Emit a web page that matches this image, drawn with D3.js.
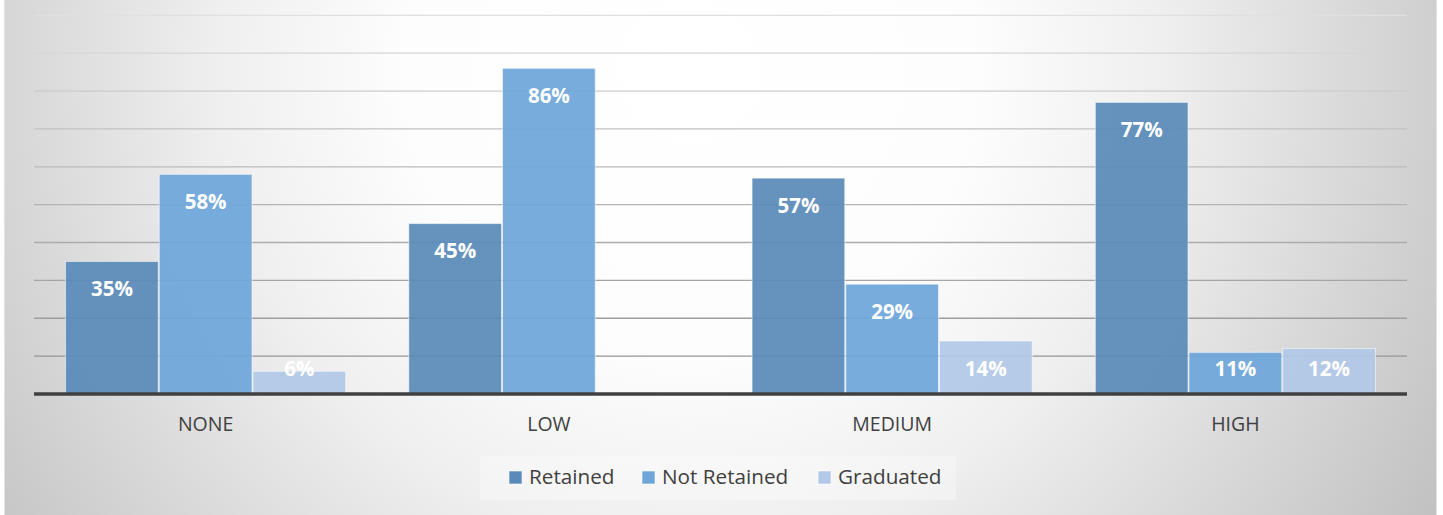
<!DOCTYPE html>
<html>
<head>
<meta charset="utf-8">
<script src="https://cdn.jsdelivr.net/npm/d3@7/dist/d3.min.js"></script>
<style>
  html, body { margin: 0; padding: 0; background: #ffffff; }
  svg { display: block; }
  text { font-family: "Open Sans", "Noto Sans", sans-serif; }
</style>
</head>
<body>
<svg id="chart" width="1443" height="515"></svg>
<script>
// ---- data ----
const categories = ["NONE", "LOW", "MEDIUM", "HIGH"];
const seriesNames = ["Retained", "Not Retained", "Graduated"];
const retained = [35, 45, 57, 77];
const notRetained = [58, 86, 29, 11];
const graduated = [6, null, 14, 12];
const yTicks = [10, 20, 30, 40, 50, 60, 70, 80, 90, 100];

const seriesValues = [retained, notRetained, graduated];
const colors = ["#5a8ab9", "#6ea6da", "#b2c8e6"];

const W = 1443, H = 515;
const svg = d3.select("#chart");

// background radial gradient
const defs = svg.append("defs");
const rg = defs.append("radialGradient")
  .attr("id", "bg")
  .attr("gradientUnits", "userSpaceOnUse")
  .attr("cx", 690).attr("cy", 70).attr("r", 860);
[[0, "#ffffff"], [0.33, "#fdfdfd"], [0.55, "#efefef"], [0.8, "#d6d6d6"], [1, "#c2c2c2"]]
  .forEach(([o, c]) => rg.append("stop").attr("offset", o).attr("stop-color", c));

svg.append("rect")
  .attr("x", 4.5).attr("y", -1).attr("width", 1432).attr("height", H + 2)
  .attr("fill", "url(#bg)")
  .attr("stroke", "#e2e2e2").attr("stroke-width", 1);

// scales
const plotLeft = 34, plotRight = 1407;
const x0 = d3.scaleBand().domain(categories).range([plotLeft, plotRight])
  .paddingInner(0.181).paddingOuter(0.0905);
const x1 = d3.scaleBand().domain(seriesNames).range([0, x0.bandwidth()]).padding(0);
const y = d3.scaleLinear().domain([0, 100]).range([394, 15.3]);

// gridlines
const gridColor = d3.scaleLinear().domain([100, 70, 10]).range(["#e0e0e0", "#c2c2c2", "#969696"]);
svg.append("g").selectAll("line").data(yTicks).join("line")
  .attr("x1", plotLeft).attr("x2", plotRight)
  .attr("y1", d => y(d)).attr("y2", d => y(d))
  .attr("stroke", d => gridColor(d))
  .attr("stroke-width", 1.3);

// bars
const rows = categories.map((c, i) => ({
  cat: c,
  vals: seriesNames.map((s, j) => ({ s, j, v: seriesValues[j][i] }))
}));

const groups = svg.append("g").selectAll("g").data(rows).join("g")
  .attr("transform", d => `translate(${x0(d.cat)},0)`);

groups.selectAll("rect").data(d => d.vals.filter(e => e.v != null)).join("rect")
  .attr("x", d => x1(d.s) + 0.5)
  .attr("y", d => y(d.v))
  .attr("width", x1.bandwidth() - 1)
  .attr("height", d => y(0) - y(d.v))
  .attr("fill", d => colors[d.j])
  .attr("fill-opacity", 0.93)
  .attr("stroke", "rgba(255,255,255,0.55)")
  .attr("stroke-width", 1);

// data labels
groups.selectAll("text").data(d => d.vals.filter(e => e.v != null)).join("text")
  .attr("x", d => x1(d.s) + x1.bandwidth() / 2)
  .attr("y", d => Math.min(y(d.v) + 27.5, y(0) - 25))
  .attr("dy", "0.36em")
  .attr("text-anchor", "middle")
  .attr("fill", "#ffffff")
  .attr("font-weight", "bold")
  .attr("font-size", 20.5)
  .text(d => d.v + "%");

// baseline axis
svg.append("line")
  .attr("x1", plotLeft).attr("x2", plotRight)
  .attr("y1", y(0)).attr("y2", y(0))
  .attr("stroke", "#404040").attr("stroke-width", 3.5);

// category axis
const xAxis = d3.axisBottom(x0).tickSize(0).tickPadding(0);
const axG = svg.append("g").attr("transform", `translate(0,${y(0)})`).call(xAxis);
axG.select(".domain").remove();
axG.selectAll("text")
  .attr("y", 30)
  .attr("dy", "0.36em")
  .attr("fill", "#404040")
  .attr("font-size", 19.5)
  .attr("font-family", "'Open Sans', 'Noto Sans', sans-serif");

// legend
svg.append("rect")
  .attr("x", 480).attr("y", 456).attr("width", 476).attr("height", 44)
  .attr("fill", "rgba(255,255,255,0.3)");

const legendX = [509, 642, 818];
const lg = svg.append("g").selectAll("g").data(seriesNames).join("g")
  .attr("transform", (d, i) => `translate(${legendX[i]},477)`);
lg.append("rect")
  .attr("x", 0).attr("y", -6).attr("width", 13).attr("height", 13)
  .attr("fill", (d, i) => colors[i])
  .attr("stroke", "rgba(255,255,255,0.6)").attr("stroke-width", 1);
lg.append("text")
  .attr("x", 20).attr("y", 0).attr("dy", "0.36em")
  .attr("fill", "#404040")
  .attr("font-size", 20.7)
  .text(d => d);
</script>
</body>
</html>
